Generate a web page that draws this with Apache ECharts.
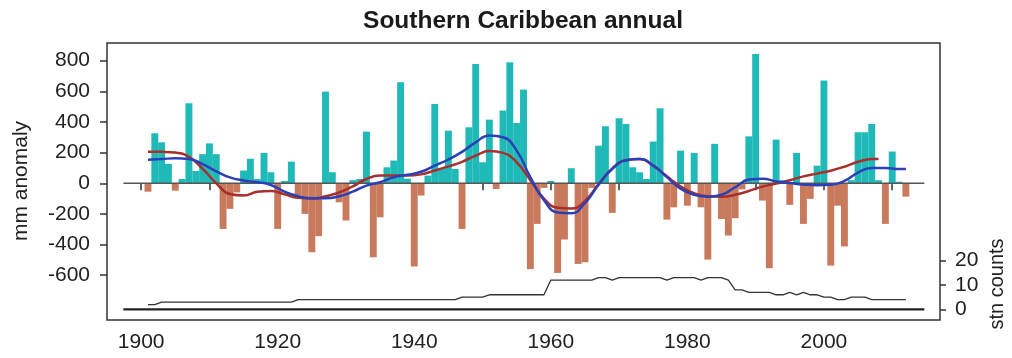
<!DOCTYPE html>
<html>
<head>
<meta charset="utf-8">
<script src="https://cdn.jsdelivr.net/npm/echarts@6/dist/echarts.min.js"></script>
<style>html,body{margin:0;padding:0;background:#fff;}#c{width:1012px;height:358px;}</style>
</head>
<body>
<div id="c"></div>
<script>
const startYear = 1901;
const anomaly = [
  -55, 326, 267, 126, -48, 28, 522, 80, 190, 260,
  190, -298, -167, -60, 83, 160, 28, 198, 72, -298,
  15, 141, -80, -200, -450, -345, 598, 72, -124, -243,
  20, 28, 337, -483, -222, 104, 148, 659, 30, -543,
  -80, 50, 517, 93, 343, 93, -298, 365, 778, 137,
  415, -37, 474, 789, 393, 611, -560, -265, -30, 15,
  -585, -367, 98, -526, -515, -30, 245, 372, -193, 424,
  387, 104, 72, 28, 272, 489, -237, -157, 213, -146,
  198, -157, -498, 257, -233, -341, -228, -40, 306, 843,
  -113, -554, 285, 20, -141, 198, -265, -102, 115, 670,
  -537, -146, -412, 20, 333, 333, 387, 20, -265, 207,
  10, -87
];
const stnCounts = [
  2, 2, 3, 3, 3, 3, 3, 3, 3, 3,
  3, 3, 3, 3, 3, 3, 3, 3, 3, 3,
  3, 3, 4, 4, 4, 4, 4, 4, 4, 4,
  4, 4, 4, 4, 4, 4, 4, 4, 4, 4,
  4, 4, 4, 4, 4, 4, 5, 5, 5, 5,
  6, 6, 6, 6, 6, 6, 6, 6, 6, 12,
  12, 12, 12, 12, 12, 12, 13, 13, 12, 13,
  13, 13, 13, 13, 13, 13, 12, 13, 13, 13,
  13, 12, 13, 13, 13, 12, 8, 8, 7, 7,
  7, 7, 6, 6, 7, 6, 7, 6, 6, 5,
  5, 4, 4, 5, 5, 5, 4, 4, 4, 4,
  4, 4
];
const redYears = [1901,1903,1905,1907,1909,1911,1913,1915,1917,1919,1921,1923,1925,1927,1929,1931,1933,1935,1937,1939,
  1941,1943,1945,1947,1949,1951,1953,1955,1957,1959,1961,1963,1965,1967,1969,1971,1973,1975,1977,1979,
  1981,1983,1985,1987,1989,1991,1993,1995,1997,1999,2001,2003,2005,2007,2008];
const redSmooth = [206,205,200,172,95,0,-70,-80,-56,-50,-72,-95,-100,-85,-60,-20,28,50,50,50,
  58,83,110,140,180,210,198,137,20,-100,-160,-165,-115,-5,95,150,158,115,45,-20,
  -65,-85,-88,-75,-50,-22,-2,20,45,63,82,108,140,158,159];
const blueYears = [1901,1903,1905,1907,1909,1911,1913,1915,1917,1919,1921,1923,1925,1927,1929,1931,1933,1935,1937,1939,
  1941,1943,1945,1947,1949,1951,1953,1955,1957,1959,1961,1963,1965,1967,1969,1971,1973,1975,1977,1979,
  1981,1983,1985,1987,1989,1991,1993,1995,1997,1999,2001,2003,2005,2007,2009,2011,2012];
const blueSmooth = [154,158,163,159,125,78,38,18,7,-11,-55,-85,-98,-98,-85,-55,-15,7,39,55,
  75,115,155,205,267,311,300,213,40,-110,-190,-195,-130,-10,95,150,158,115,40,-35,
  -75,-88,-75,-26,24,30,12,2,-8,-13,-10,15,70,100,100,93,93];
const xTicks = [1900,1910,1920,1930,1940,1950,1960,1970,1980,1990,2000,2010];
const xLabels = [1900,1920,1940,1960,1980,2000];
const yTicks = [-600,-400,-200,0,200,400,600,800];
const countTicks = [0,10,20];
const lineSpan = [1897.4, 2014.7];

const FONT = 'Liberation Sans, Arial, Helvetica, sans-serif';
const CYAN = '#1fbab8';
const BROWN = '#c97a5c';

const barData = anomaly.map((v, i) => [startYear + i, v]);
const countData = stnCounts.map((v, i) => [startYear + i, v]);
const redData = redYears.map((y, i) => [y, redSmooth[i]]);
const blueData = blueYears.map((y, i) => [y, blueSmooth[i]]);

const chart = echarts.init(document.getElementById('c'), null, {renderer: 'canvas'});
chart.setOption({
  animation: false,
  backgroundColor: '#fff',
  grid: {left: 107, right: 72, top: 43, bottom: 38, show: true, borderColor: '#333', borderWidth: 1.5, backgroundColor: 'transparent'},
  graphic: [
    {type: 'text', x: 523, y: 21, style: {text: 'Southern Caribbean annual', font: 'bold 24.5px ' + FONT, fill: '#1a1a1a', align: 'center', verticalAlign: 'middle'}},
    {type: 'text', x: 21, y: 181, rotation: Math.PI / 2, style: {text: 'mm anomaly', font: '21px ' + FONT, fill: '#222', align: 'center', verticalAlign: 'middle'}},
    {type: 'text', x: 997, y: 284, rotation: Math.PI / 2, style: {text: 'stn counts', font: '20px ' + FONT, fill: '#222', align: 'center', verticalAlign: 'middle'}}
  ],
  xAxis: {
    type: 'value', min: 1895, max: 2017,
    axisLine: {show: false},
    splitLine: {show: false},
    axisTick: {show: true, length: 7, customValues: xTicks, lineStyle: {color: '#333', width: 1.5}},
    axisLabel: {customValues: xLabels, formatter: v => String(v), fontSize: 21, fontFamily: FONT, color: '#222', margin: 12}
  },
  yAxis: [
    {
      type: 'value', min: -892, max: 915,
      axisLine: {show: false},
      splitLine: {show: false},
      axisTick: {show: true, length: 7, customValues: yTicks, lineStyle: {color: '#333', width: 1.5}},
      axisLabel: {customValues: yTicks, formatter: v => String(v), fontSize: 21, fontFamily: FONT, color: '#222', margin: 17}
    },
    {
      type: 'value', min: -4.3, max: 108.8, position: 'right',
      axisLine: {show: false},
      splitLine: {show: false},
      axisTick: {show: true, length: 6, customValues: countTicks, lineStyle: {color: '#333', width: 1.5}},
      axisLabel: {customValues: countTicks, formatter: v => String(v), fontSize: 21, fontFamily: FONT, color: '#222', margin: 15}
    }
  ],
  series: [
    {
      type: 'bar', data: barData, barWidth: 6.9, z: 2,
      itemStyle: {color: p => (p.value[1] >= 0 ? CYAN : BROWN)}
    },
    {
      type: 'line', data: lineSpan.map(x => [x, 0]), symbol: 'none', z: 3,
      lineStyle: {color: '#555', width: 1.5}
    },
    {
      type: 'line', data: redData, smooth: 0.5, symbol: 'none', z: 4,
      lineStyle: {color: '#a8302c', width: 2.5}
    },
    {
      type: 'line', data: blueData, smooth: 0.5, symbol: 'none', z: 5,
      lineStyle: {color: '#2b3fb8', width: 2.5}
    },
    {
      type: 'line', yAxisIndex: 1, data: lineSpan.map(x => [x, 0]), symbol: 'none', z: 3,
      lineStyle: {color: '#222', width: 2.2}
    },
    {
      type: 'line', yAxisIndex: 1, data: countData, symbol: 'none', z: 3,
      lineStyle: {color: '#333', width: 1.3}
    }
  ]
});
</script>
</body>
</html>
